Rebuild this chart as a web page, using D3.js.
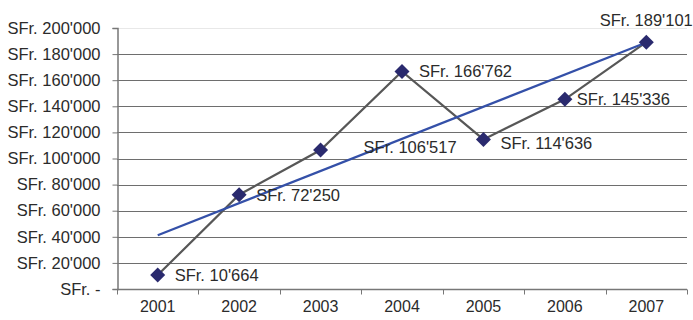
<!DOCTYPE html>
<html>
<head>
<meta charset="utf-8">
<script src="https://cdn.jsdelivr.net/npm/d3@7"></script>
<style>
  html, body { margin: 0; padding: 0; background: #fff; }
  svg { display: block; font-family: "Liberation Sans", Arial, sans-serif; }
</style>
</head>
<body>
<svg id="chart" width="693" height="320"></svg>
<script>
// Yearly amounts in Swiss francs
const years = ["2001", "2002", "2003", "2004", "2005", "2006", "2007"];
const amounts = [10664, 72250, 106517, 166762, 114636, 145336, 189101];
const yTicks = [0, 20000, 40000, 60000, 80000, 100000, 120000, 140000, 160000, 180000, 200000];

const svg = d3.select("#chart");
const margin = { left: 117, right: 6, top: 28, bottom: 31 };
const W = 693, H = 320;
const FONT = 16.5;

const x = d3.scaleBand().domain(years).range([margin.left, W - margin.right]).padding(0);
const y = d3.scaleLinear().domain([0, 200000]).range([H - margin.bottom, margin.top]);

// Swiss-style thousands separator
const chf = v => v === 0 ? "SFr. -" : "SFr. " + d3.format(",")(v).replace(/,/g, "'");
const chfLabel = v => "SFr. " + d3.format(",")(v).replace(/,/g, "'");

// Horizontal gridlines
svg.append("g")
  .selectAll("line")
  .data(yTicks.filter(t => t > 0))
  .join("line")
  .attr("x1", margin.left).attr("x2", W - margin.right)
  .attr("y1", d => Math.round(y(d)) + 0.5).attr("y2", d => Math.round(y(d)) + 0.5)
  .attr("stroke", d => d === 200000 ? "#e8e8e8" : "#6e6e6e")
  .attr("stroke-width", 1);

// Y axis
const yAxis = svg.append("g")
  .attr("transform", `translate(${margin.left + 0.5},0)`)
  .call(d3.axisLeft(y).tickValues(yTicks).tickFormat(chf).tickSize(5).tickPadding(12));
yAxis.select(".domain").attr("stroke", "#777").attr("stroke-width", 1.5);
yAxis.selectAll(".tick line").attr("stroke", "#777");
yAxis.selectAll("text").attr("font-size", FONT).attr("fill", "#2b2b2b")
  .attr("font-family", "Liberation Sans, Arial, sans-serif");

// X axis with tick marks at band boundaries
const xAxisG = svg.append("g")
  .attr("transform", `translate(0,${Math.round(y(0)) + 0.5})`);
xAxisG.append("line")
  .attr("x1", margin.left).attr("x2", W - margin.right)
  .attr("stroke", "#777").attr("stroke-width", 1.5);
const bounds = years.map(d => x(d)).concat([x(years[years.length - 1]) + x.bandwidth()]);
xAxisG.selectAll("line.tk")
  .data(bounds)
  .join("line").attr("class", "tk")
  .attr("x1", d => Math.round(d) + 0.5).attr("x2", d => Math.round(d) + 0.5)
  .attr("y1", 0).attr("y2", 5)
  .attr("stroke", "#777");
xAxisG.selectAll("text")
  .data(years)
  .join("text")
  .attr("x", d => x(d) + x.bandwidth() / 2)
  .attr("y", 22)
  .attr("text-anchor", "middle")
  .attr("font-size", 16)
  .attr("fill", "#2b2b2b")
  .text(d => d);

const cx = d => x(d) + x.bandwidth() / 2;
const pts = years.map((d, i) => ({ year: d, i, v: amounts[i] }));

// Least-squares trend line across the years
const n = amounts.length;
const mx = d3.mean(d3.range(n));
const my = d3.mean(amounts);
const slope = d3.sum(d3.range(n), i => (i - mx) * (amounts[i] - my)) / d3.sum(d3.range(n), i => (i - mx) ** 2);
const trend = i => my + slope * (i - mx);

// Data line
svg.append("path")
  .datum(pts)
  .attr("fill", "none")
  .attr("stroke", "#575757")
  .attr("stroke-width", 2.2)
  .attr("d", d3.line().x(d => cx(d.year)).y(d => y(d.v)));

// Trend line
svg.append("line")
  .attr("x1", cx(years[0])).attr("y1", y(trend(0)))
  .attr("x2", cx(years[n - 1])).attr("y2", y(trend(n - 1)))
  .attr("stroke", "#3450a8")
  .attr("stroke-width", 2.2);

// Diamond markers
svg.append("g")
  .selectAll("path")
  .data(pts)
  .join("path")
  .attr("transform", d => `translate(${cx(d.year)},${y(d.v)})`)
  .attr("d", "M0,-7.5L7.5,0L0,7.5L-7.5,0Z")
  .attr("fill", "#2a2a6e");

// Value labels (placement per point)
const labelPlace = [
  { dx: 17, dy: 0, anchor: "start" },
  { dx: 17, dy: 0, anchor: "start" },
  { dx: 43, dy: -3, anchor: "start" },
  { dx: 17, dy: 0, anchor: "start" },
  { dx: 17, dy: 4, anchor: "start" },
  { dx: 12, dy: 0, anchor: "start" },
  { dx: 0, dy: -22, anchor: "middle" }
];
svg.append("g")
  .selectAll("text")
  .data(pts)
  .join("text")
  .attr("x", d => cx(d.year) + labelPlace[d.i].dx)
  .attr("y", d => y(d.v) + labelPlace[d.i].dy)
  .attr("dy", "0.36em")
  .attr("text-anchor", d => labelPlace[d.i].anchor)
  .attr("font-size", FONT)
  .attr("fill", "#2b2b2b")
  .text(d => chfLabel(d.v));
</script>
</body>
</html>
